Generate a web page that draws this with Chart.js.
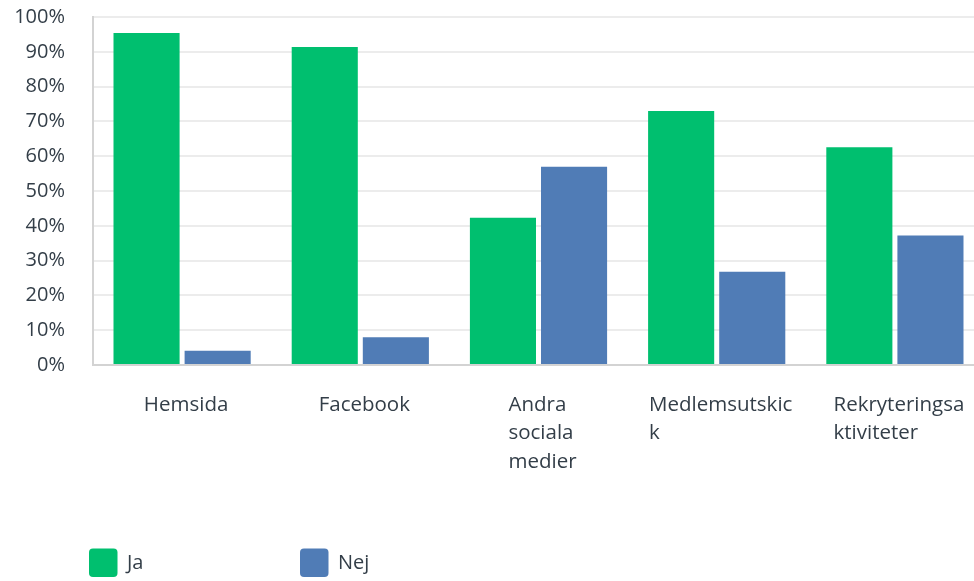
<!DOCTYPE html>
<html>
<head>
<meta charset="utf-8">
<script src="https://cdn.jsdelivr.net/npm/chart.js@4/dist/chart.umd.min.js"></script>
<style>
  html, body { margin: 0; padding: 0; background: #ffffff; overflow: hidden; width: 974px; height: 581px; }
  #wrap { position: absolute; left: 0; top: 0; width: 984px; height: 581px; }
</style>
</head>
<body>
<div id="wrap"><canvas id="c" width="984" height="581"></canvas></div>
<script>
// ---- data ----
const categories = [
  ["Hemsida"],
  ["Facebook"],
  ["Andra", "sociala", "medier"],
  ["Medlemsutskic", "k"],
  ["Rekryteringsa", "ktiviteter"]
];
const seriesNames = ["Ja", "Nej"];
const jaValues  = [95.4, 91.4, 42.3, 73.0, 62.6];
const nejValues = [4.1, 8.0, 57.0, 26.8, 37.2];
const yTicks = [0, 10, 20, 30, 40, 50, 60, 70, 80, 90, 100];

const FONT = "'Open Sans', sans-serif";
const TEXT = "#333e48";
const GREEN = "#00bf6f";
const BLUE = "#507cb6";

// left-aligned multi-line x labels, block centered on tick
const xLabelPlugin = {
  id: 'xLabels',
  afterDraw(chart) {
    const ctx = chart.ctx;
    const xs = chart.scales.x;
    const area = chart.chartArea;
    ctx.save();
    ctx.font = "20.5px " + FONT;
    ctx.fillStyle = TEXT;
    ctx.textAlign = 'left';
    ctx.textBaseline = 'alphabetic';
    chart.data.labels.forEach((lines, i) => {
      const cx = xs.getPixelForTick(i);
      let maxW = 0;
      lines.forEach(l => { maxW = Math.max(maxW, ctx.measureText(l).width); });
      const x0 = cx - maxW / 2 + 4;
      lines.forEach((l, j) => {
        ctx.fillText(l, x0, area.bottom + 45.5 + j * 28.7);
      });
    });
    ctx.restore();
  }
};

// legend at bottom-left with fixed item spacing
const legendPlugin = {
  id: 'customLegend',
  afterDraw(chart) {
    const ctx = chart.ctx;
    const area = chart.chartArea;
    ctx.save();
    ctx.font = "20px " + FONT;
    ctx.textBaseline = 'middle';
    ctx.textAlign = 'left';
    chart.data.datasets.forEach((ds, i) => {
      const bx = area.left - 4 + i * 211;
      const by = 548.5;
      ctx.fillStyle = ds.backgroundColor;
      ctx.beginPath();
      ctx.roundRect(bx, by, 28.5, 28.5, 4);
      ctx.fill();
      ctx.fillStyle = TEXT;
      ctx.fillText(ds.label, bx + 38, by + 15);
    });
    ctx.restore();
  }
};

new Chart(document.getElementById('c'), {
  type: 'bar',
  data: {
    labels: categories,
    datasets: [
      { label: seriesNames[0], data: jaValues, backgroundColor: GREEN, categoryPercentage: 0.798, barPercentage: 0.9296 },
      { label: seriesNames[1], data: nejValues, backgroundColor: BLUE, categoryPercentage: 0.798, barPercentage: 0.9296 }
    ]
  },
  options: {
    responsive: false,
    animation: false,
    devicePixelRatio: 1,
    layout: { padding: { top: 0, bottom: 216, left: 0, right: 0 } },
    plugins: {
      legend: { display: false },
      tooltip: { enabled: false }
    },
    scales: {
      x: {
        grid: { display: false, drawTicks: false },
        border: { display: true, color: '#d3d3d3', width: 2 },
        ticks: { display: false }
      },
      y: {
        min: 0,
        max: 100,
        afterBuildTicks(scale) { scale.ticks = yTicks.map(v => ({ value: v })); },
        afterFit(scale) { scale.width = 93; },
        grid: { color: '#ececec', lineWidth: 2, drawTicks: true, tickLength: 23, tickColor: 'rgba(0,0,0,0)' },
        border: { display: true, color: '#d3d3d3', width: 2 },
        ticks: {
          padding: 5,
          color: TEXT,
          font: { family: FONT, size: 20 },
          callback: v => v + '%'
        }
      }
    }
  },
  plugins: [xLabelPlugin, legendPlugin]
});
</script>
</body>
</html>
